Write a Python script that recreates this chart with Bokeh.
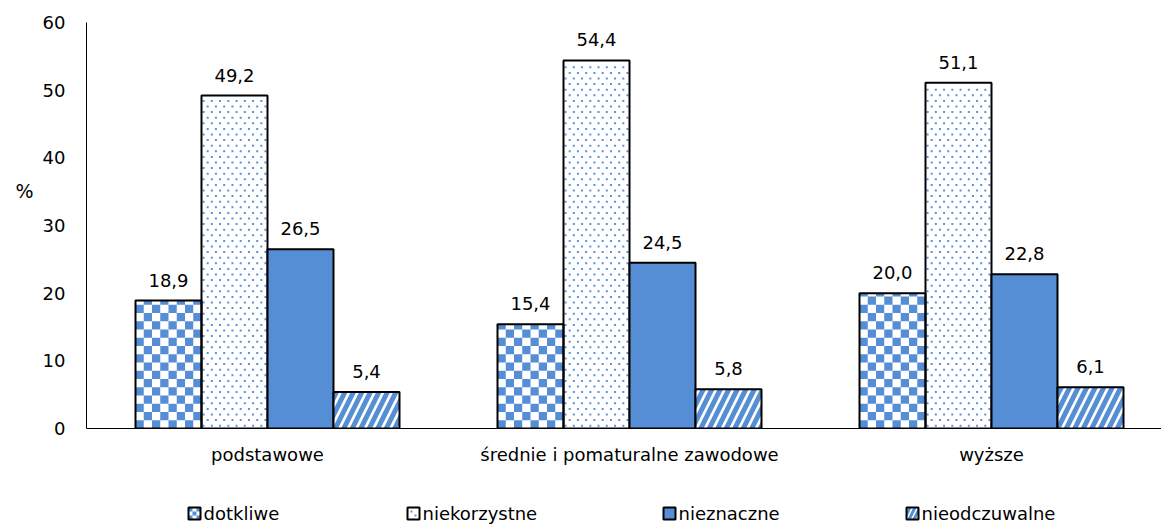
import math
from bokeh.plotting import figure
from bokeh.layouts import column
from bokeh.models import ColumnDataSource, Range1d, FixedTicker, LinearAxis
from bokeh.core.properties import value
from bokeh.embed import file_html
from bokeh.resources import INLINE

categories = ["podstawowe", "średnie i pomaturalne zawodowe", "wyższe"]
series = ["dotkliwe", "niekorzystne", "nieznaczne", "nieodczuwalne"]
dotkliwe = [18.9, 15.4, 20.0]
niekorzystne = [49.2, 54.4, 51.1]
nieznaczne = [26.5, 24.5, 22.8]
nieodczuwalne = [5.4, 5.8, 6.1]
y_ticks = [0, 10, 20, 30, 40, 50, 60]

BLUE = "#558ed5"
DOTC = "#5b93d8"
FONT = "DejaVu Sans"

W = 1161
H_MAIN = 480
LEFT, TOP, BOTTOM = 86, 22, 52
frame_w = W - LEFT
frame_h = H_MAIN - TOP - BOTTOM
px_per_cat = 362.0
x_end = frame_w / px_per_cat
y_max = 60
px_per_unit_y = frame_h / y_max

p = figure(width=W, height=H_MAIN, output_backend="svg", toolbar_location=None,
           x_range=Range1d(0, x_end), y_range=Range1d(0, y_max),
           min_border_left=LEFT, min_border_top=TOP, min_border_bottom=BOTTOM,
           min_border_right=0)
p.outline_line_color = None
p.xgrid.grid_line_color = None
p.ygrid.grid_line_color = None

bw = 66.0 / px_per_cat
offsets = [-1.5 * bw, -0.5 * bw, 0.5 * bw, 1.5 * bw]
vals = [dotkliwe, niekorzystne, nieznaczne, nieodczuwalne]

# checker cells for "dotkliwe" bars (computed from the data)
cell_w = bw / 8
cell_h = 8.25 / px_per_unit_y
cl, cr, cb, ct = [], [], [], []
for i, v in enumerate(dotkliwe):
    x0 = i + 0.5 + offsets[0] - bw / 2
    rows = int(math.ceil(v / cell_h))
    for r in range(rows):
        for c in range(8):
            if (r + c) % 2 == 0:
                cl.append(x0 + c * cell_w)
                cr.append(x0 + (c + 1) * cell_w)
                cb.append(r * cell_h)
                ct.append(min((r + 1) * cell_h, v))
p.quad(left=cl, right=cr, bottom=cb, top=ct, fill_color=BLUE, line_color=None)

# staggered dots for "niekorzystne" bars (computed from the data)
dx, dy = [], []
row_h = 5.6 / px_per_unit_y
for i, v in enumerate(niekorzystne):
    x0 = i + 0.5 + offsets[1] - bw / 2
    rows = int(v / row_h)
    for r in range(rows):
        yy = (r + 0.5) * row_h
        shift = 0.25 if r % 2 == 0 else 0.75
        for c in range(8):
            dx.append(x0 + (c + shift) * cell_w)
            dy.append(yy)
p.rect(x=dx, y=dy, width=2, height=2, width_units="screen", height_units="screen",
       fill_color=DOTC, line_color=None)

styles = [
    dict(fill_color=None),
    dict(fill_color=None),
    dict(fill_color=BLUE),
    dict(fill_color="white", hatch_pattern="/", hatch_color=BLUE, hatch_scale=17,
         hatch_weight=5),
]

for k, (name, v) in enumerate(zip(series, vals)):
    xs = [i + 0.5 + offsets[k] for i in range(len(categories))]
    src = ColumnDataSource(dict(x=xs, top=v, lab=[f"{t:.1f}".replace(".", ",") for t in v]))
    p.vbar(x="x", top="top", width=bw, bottom=0, source=src,
           line_color="black", line_width=2, **styles[k])
    p.text(x="x", y="top", text="lab", source=src, text_align="center",
           text_baseline="bottom", y_offset=-14, text_font=value(FONT),
           text_font_size="18px", text_color="black")

# axes
p.xaxis.ticker = FixedTicker(ticks=[i + 0.5 for i in range(len(categories))])
p.xaxis.major_label_overrides = {i + 0.5: c for i, c in enumerate(categories)}
p.yaxis.ticker = FixedTicker(ticks=y_ticks)
for ax in (p.xaxis[0], p.yaxis[0]):
    ax.major_tick_line_color = None
    ax.major_tick_out = 0
    ax.major_tick_in = 0
    ax.minor_tick_line_color = None
    ax.axis_line_color = "black"
    ax.axis_line_width = 1
    ax.major_label_text_font = FONT
    ax.major_label_text_font_size = "18px"
    ax.major_label_text_color = "black"
p.xaxis.major_label_standoff = 15
p.yaxis.major_label_standoff = 21

# "%" unit label as an outer axis label
pct_y = (428 - 190) / px_per_unit_y
pct_axis = LinearAxis(ticker=FixedTicker(ticks=[pct_y]),
                      major_label_overrides={pct_y: "%"},
                      axis_line_color=None, major_tick_line_color=None,
                      minor_tick_line_color=None, major_tick_out=0, major_tick_in=0,
                      major_label_standoff=6, major_label_text_font=FONT,
                      major_label_text_font_size="19px", major_label_text_color="black")
p.add_layout(pct_axis, "left")

# legend strip (pixel coordinates; its frame is aligned with the main frame)
LH = 526 - H_MAIN
lg = figure(width=W, height=LH, output_backend="svg", toolbar_location=None,
            x_range=Range1d(LEFT, W), y_range=Range1d(0, LH),
            x_axis_location=None, y_axis_location=None, min_border=0)
lg.outline_line_color = None
lg.xgrid.grid_line_color = None
lg.ygrid.grid_line_color = None

sw_x = [188, 407, 663, 906]
sw = 12
yc = 13
# checker swatch cells
q = sw / 3
ql, qr, qb, qt = [], [], [], []
for r in range(3):
    for c in range(3):
        if (r + c) % 2 == 0:
            ql.append(sw_x[0] + c * q)
            qr.append(sw_x[0] + (c + 1) * q)
            qb.append(yc - sw / 2 + r * q)
            qt.append(yc - sw / 2 + (r + 1) * q)
lg.quad(left=ql, right=qr, bottom=qb, top=qt, fill_color=BLUE, line_color=None)
# dots swatch
lg.rect(x=[sw_x[1] + 4, sw_x[1] + 8], y=[yc + 2, yc - 2], width=2, height=2,
        fill_color=DOTC, line_color=None)
sw_styles = [dict(fill_color=None), dict(fill_color=None), dict(fill_color=BLUE),
             dict(fill_color="white", hatch_pattern="/", hatch_color=BLUE,
                  hatch_scale=10, hatch_weight=3)]
for k in range(4):
    lg.quad(left=[sw_x[k]], right=[sw_x[k] + sw], bottom=[yc - sw / 2], top=[yc + sw / 2],
            line_color="black", line_width=2, **sw_styles[k])
lg.text(x=[sx + sw + 3 for sx in sw_x], y=[yc] * 4, text=series, text_align="left",
        text_baseline="middle", text_font=value(FONT), text_font_size="18px",
        text_color="black")

layout = column(p, lg, spacing=0)
open("out.html", "w").write(file_html(layout, INLINE))
